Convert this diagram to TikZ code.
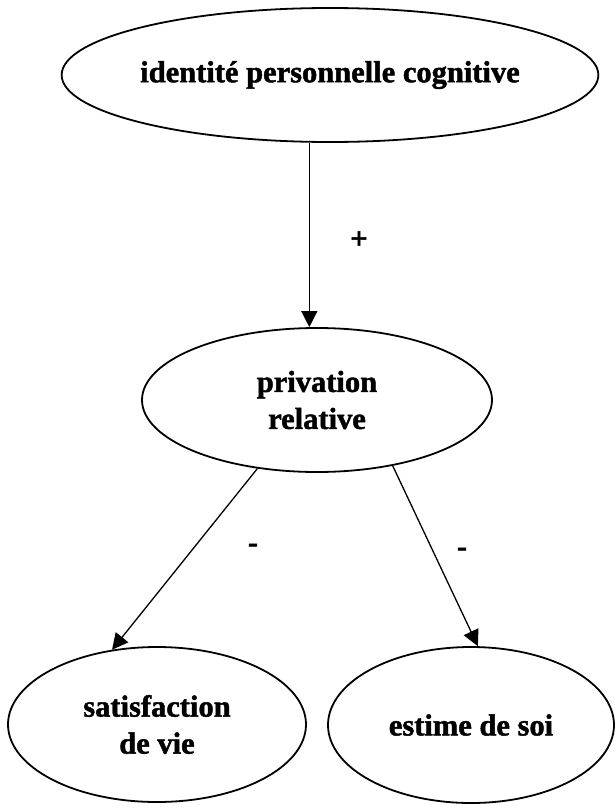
\documentclass[tikz,border=0pt]{standalone}
\usepackage{fontspec}
\setmainfont{Liberation Serif}[BoldFeatures={FakeBold=1.5}]
\usetikzlibrary{shapes.geometric,arrows.meta}
\begin{document}
\begin{tikzpicture}[x=1pt,y=-1pt,
  concept/.style={ellipse,draw,line width=1.8pt,inner sep=0pt,align=center,
    font=\fontsize{30.5}{37}\selectfont\bfseries},
  link/.style={line width=1.3pt,-{Triangle[length=16pt,width=16pt]}},
  sign/.style={font=\fontsize{30.5}{37}\selectfont\bfseries,inner sep=0pt}]
\useasboundingbox (0,0) rectangle (615,811);
\node[concept,minimum width=523pt,minimum height=134pt] (top) at (330,75) {identité personnelle cognitive};
\node[concept,minimum width=350pt,minimum height=144pt] (mid) at (317,400) {privation\\relative};
\node[concept,minimum width=298pt,minimum height=155pt] (sat) at (157,724.5) {satisfaction\\de vie};
\node[concept,minimum width=286pt,minimum height=156pt] (est) at (471,725) {estime de soi};
\draw[link] (top.253) -- (top.253 |- mid.north);
\draw[link] (mid.229) -- (sat.121.3);
\draw[link] (mid.319.5) -- (est.85.4);
\node[sign] (plus) at (359,240) {+};
\node[sign] (m1) at (253,548) {-};
\node[sign] (m2) at (462,552) {-};
\end{tikzpicture}
\end{document}
